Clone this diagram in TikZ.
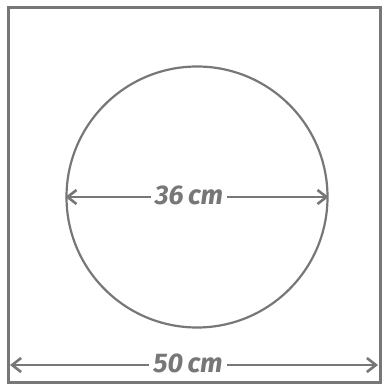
\documentclass[tikz,border=0pt]{standalone}
\usetikzlibrary{arrows.meta}
\usepackage{fontspec}
\newfontfamily\handfont{Fira Sans}
\definecolor{ink}{HTML}{777777}
\begin{document}
\begin{tikzpicture}[x=1pt,y=-1pt,
  ink line/.style={draw=ink,line width=3pt},
  dim/.style={draw=ink,line width=2.6pt,{Straight Barb[length=9pt,width=14pt,line width=2.6pt]}-{Straight Barb[length=9pt,width=14pt,line width=2.6pt]}},
  lbl/.style={text=ink,font=\fontsize{27}{27}\selectfont\handfont\bfseries\itshape,fill=white,inner xsep=4pt,inner ysep=1pt}]
\useasboundingbox (0,0) rectangle (383,387);
\node[ink line,draw,minimum width=372pt,minimum height=374pt,inner sep=0pt] (sq) at (194,195) {};
\node[draw=ink,line width=2.2pt,circle,minimum size=261pt,inner sep=0pt] (c) at (197,197) {};
\coordinate (bl) at (10,365);
\coordinate (br) at (378,365);
\draw[dim] (bl) -- (br);
\draw[dim] (c.west) -- (c.east);
\node[lbl] (t50) at (188,363) {50\,cm};
\node[lbl] (t36) at (189,195) {36\,cm};
\end{tikzpicture}
\end{document}
